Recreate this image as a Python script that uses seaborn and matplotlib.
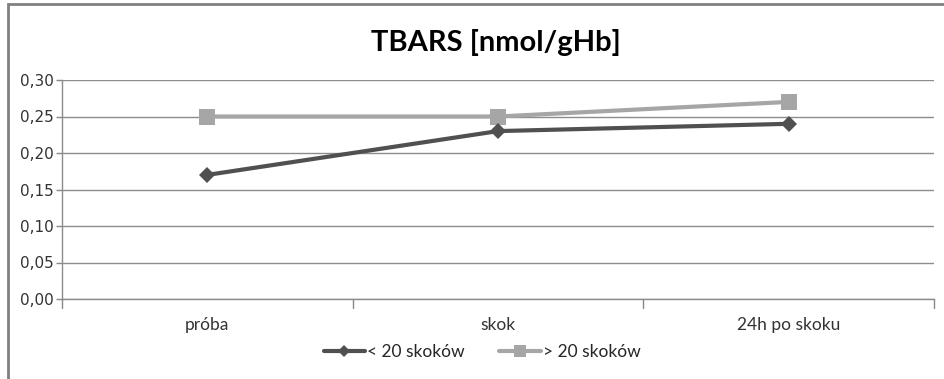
import matplotlib
matplotlib.use("Agg")
import matplotlib.pyplot as plt
import seaborn as sns
import pandas as pd
from matplotlib.patches import Rectangle

categories = ["próba", "skok", "24h po skoku"]
series_names = ["< 20 skoków", "> 20 skoków"]
values_lt20 = [0.17, 0.23, 0.24]
values_gt20 = [0.25, 0.25, 0.27]
yticks = [0.00, 0.05, 0.10, 0.15, 0.20, 0.25, 0.30]
ytick_labels = ["0,00", "0,05", "0,10", "0,15", "0,20", "0,25", "0,30"]

df = pd.DataFrame({
    "cat": categories * 2,
    "x": list(range(len(categories))) * 2,
    "val": values_lt20 + values_gt20,
    "series": [series_names[0]] * 3 + [series_names[1]] * 3,
})

sns.set_theme(style="white")
plt.rcParams["font.family"] = ["Lato", "DejaVu Sans"]

fig = plt.figure(figsize=(9.44, 3.79), dpi=100)
W, H = 944, 379
ax = fig.add_axes([62 / W, 1 - 299 / H, (934 - 62) / W, (299 - 80) / H])

palette = {series_names[0]: "#505050", series_names[1]: "#A6A6A6"}
markers = {series_names[0]: "D", series_names[1]: "s"}
sizes = {series_names[0]: 8, series_names[1]: 11}
for name in series_names[::-1]:
    sub = df[df["series"] == name]
    sns.lineplot(data=sub, x="x", y="val", ax=ax, color=palette[name],
                 marker=markers[name], markersize=sizes[name], linewidth=3,
                 markeredgewidth=0, label=name, legend=False)

ax.set_xlim(-0.5, 2.5)
ax.set_ylim(0, 0.30)
ax.set_yticks(yticks)
ax.set_yticklabels(ytick_labels, fontsize=11, family="DejaVu Sans", color="#333333")
ax.set_xticks(range(len(categories)))
ax.set_xticklabels(categories, fontsize=12.5, color="#333333")
ax.tick_params(axis="x", length=0, pad=13)
ax.tick_params(axis="y", length=4, width=1, color="#888888", pad=2, left=True)
for v in [-0.5, 0.5, 1.5, 2.5]:
    ax.plot([v, v], [0, -0.012], color="#888888", lw=1, clip_on=False)
ax.grid(axis="y", color="#8c8c8c", linewidth=1)
ax.set_axisbelow(True)
ax.set_xlabel("")
ax.set_ylabel("")
for s in ["top", "right"]:
    ax.spines[s].set_visible(False)
ax.spines["left"].set_color("#8c8c8c")
ax.spines["bottom"].set_color("#8c8c8c")
ax.spines["left"].set_linewidth(1)
ax.spines["bottom"].set_linewidth(1)

fig.text(496 / W, 1 - 43 / H, "TBARS [nmol/gHb]", ha="center", va="center",
         fontsize=21, fontweight="bold", color="#000000")

handles, labels = ax.get_legend_handles_labels()
order = [labels.index(n) for n in series_names]
fig.legend([handles[i] for i in order], [labels[i] for i in order],
           loc="center", bbox_to_anchor=(482 / W, 1 - 352 / H), ncol=2,
           frameon=False, fontsize=12.5, handlelength=2.4, columnspacing=2.0,
           handletextpad=0.1, markerscale=0.8)

fig.patches.append(Rectangle((8 / W, -0.1), 1.2, (1 - 4 / H) + 0.1,
                             transform=fig.transFigure, fill=False,
                             edgecolor="#808080", linewidth=2))

fig.savefig("out.png", dpi=100)
